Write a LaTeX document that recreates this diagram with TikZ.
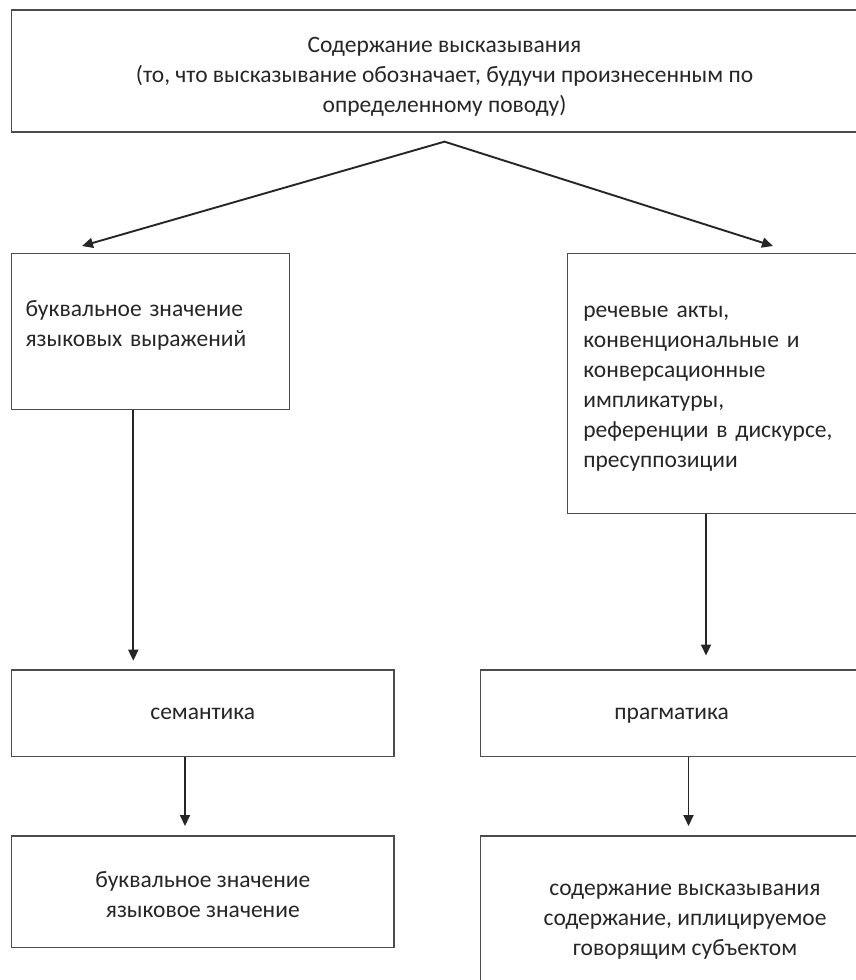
\documentclass[tikz,border=0pt]{standalone}
\usepackage{fontspec}
\setmainfont{Carlito}
\usetikzlibrary{arrows.meta,positioning}

\begin{document}
\begin{tikzpicture}[x=1pt,y=-1pt,
        >={Triangle[length=11pt,width=10pt]},
        every node/.style={font=\fontsize{23.5}{30}\selectfont, text=black!85},
        box/.style={draw=black!70, line width=1.3pt, rectangle, inner sep=0pt},
        arr/.style={draw=black!85, line width=1.9pt}]
    \useasboundingbox (0,0) rectangle (856,980);
    \node[box, align=center, text height=88pt, text depth=6pt, minimum width=866pt, minimum height=122pt] (top) at (444.5,71)
        {Содержание высказывания\\(то, что высказывание обозначает, будучи произнесенным по\\определенному поводу)};
    \node[box, align=left, text width=250pt, text height=6.8pt, text depth=36pt, minimum width=278pt, minimum height=156pt] (lit) at (150.6,331.3)
        {буквальное значение\\языковых выражений};
    \node[box, align=left, text width=290pt, text height=24pt, text depth=156pt, minimum width=322pt, minimum height=260pt] (acts) at (728.3,383.3)
        {речевые акты,\\конвенциональные и\\конверсационные\\импликатуры,\\референции в дискурсе,\\пресуппозиции};
    \node[box, text height=12pt, text depth=0pt, minimum width=382.5pt, minimum height=86.7pt] (sem) at (202.8,713.3) {семантика};
    \node[box, text height=12pt, text depth=0pt, minimum width=382.5pt, minimum height=86.7pt] (prag) at (671.7,713.3) {прагматика};
    \node[box, align=center, text height=57.2pt, text depth=6pt, minimum width=382.5pt, minimum height=111.3pt] (litval) at (202.8,891.7)
        {буквальное значение\\языковое значение};
    \node[box, align=center, text height=76pt, text depth=6pt, minimum width=408.6pt, minimum height=168pt] (content) at (685,920)
        {содержание высказывания\\содержание, иплицируемое\\говорящим субъектом};

    \coordinate[below=9pt of top.south] (split);
    \coordinate (litTip) at (82,246);
    \coordinate (actsTip) at (773,246);
    \coordinate (semTip) at (133.3,660.7);
    \coordinate (pragTip) at (706,655.5);
    \coordinate (litvalTip) at (185,826);
    \coordinate (contentTip) at (688.5,826);

    \draw[arr, <->] (litTip) -- (split) -- (actsTip);
    \draw[arr, ->] (lit.south -| semTip) -- (semTip);
    \draw[arr, ->] (acts.south -| pragTip) -- (pragTip);
    \draw[arr, ->] (sem.south -| litvalTip) -- (litvalTip);
    \draw[arr, ->] (prag.south -| contentTip) -- (contentTip);
\end{tikzpicture}
\end{document}
